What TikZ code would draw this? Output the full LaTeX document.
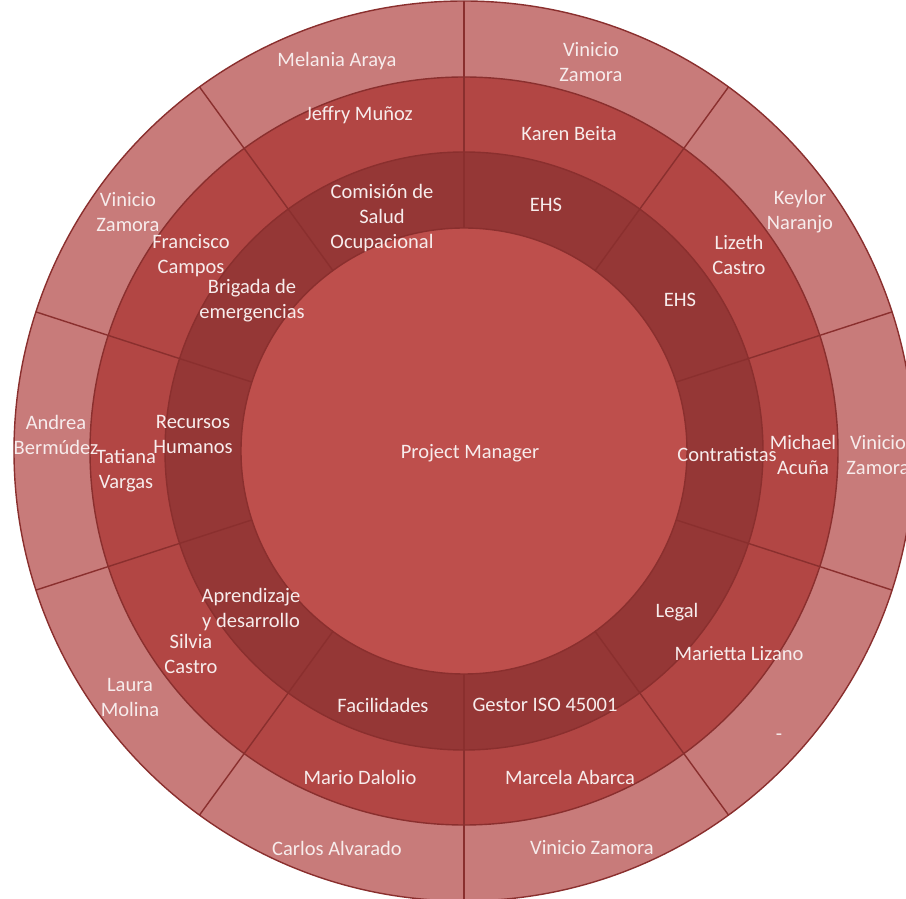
\documentclass[tikz,border=0pt]{standalone}
\usepackage{fontspec}
\setmainfont{Carlito}
\definecolor{ringA}{HTML}{BE4F4C}
\definecolor{ringB}{HTML}{953736}
\definecolor{ringC}{HTML}{B24644}
\definecolor{ringD}{HTML}{C87B7A}
\definecolor{edge}{HTML}{8A2F2E}
\definecolor{lbl}{HTML}{F7ECEC}
\tikzset{
  lab/.style={text=lbl, font=\fontsize{20.5}{25}\selectfont, align=center, inner sep=0pt},
  rim/.style={draw=edge, line width=1.4pt},
}
\begin{document}
\begin{tikzpicture}[x=1pt,y=1pt]
\useasboundingbox (-464,-448) rectangle (442,451);
% rings, outermost first
\fill[ringD] (0,0) circle (450);
\fill[ringC] (0,0) circle (374);
\fill[ringB] (0,0) circle (299);
\fill[ringA] (0,0) circle (223);
\draw[rim] (0,0) circle (450);
\draw[rim] (0,0) circle (374);
\draw[rim] (0,0) circle (299);
\draw[rim] (0,0) circle (223);
% sector boundaries every 36 degrees
\foreach \a in {90,54,18,-18,-54,-90,-126,-162,162,126}
  \draw[rim] (\a:223) -- (\a:450);

\begin{scope}[yshift=-2pt]
% centre
\node[lab] (pm) at (6,0) {Project Manager};

% departments
\node[lab] (d1) at (82,248) {EHS};
\node[lab] (d2) at (216,153) {EHS};
\node[lab] (d3) at (263,-1) {Contratistas};
\node[lab] (d4) at (213,-159) {Legal};
\node[lab] (d5) at (81,-252) {Gestor ISO 45001};
\node[lab] (d6) at (-81,-252) {Facilidades};
\node[lab] (d7) at (-213,-157) {Aprendizaje\\y desarrollo};
\node[lab] (d8) at (-271,18) {Recursos\\Humanos};
\node[lab] (d9) at (-212,152) {Brigada de\\emergencias};
\node[lab] (d10) at (-82,235) {Comisión de\\Salud\\Ocupacional};

% leads
\node[lab] (l1) at (105,319) {Karen Beita};
\node[lab] (l2) at (275,198) {Lizeth\\Castro};
\node[lab] (l3) at (339,-2) {Michael\\Acuña};
\node[lab] (l4) at (275,-201) {Marietta Lizano};
\node[lab] (l5) at (106,-324) {Marcela Abarca};
\node[lab] (l6) at (-104,-324) {Mario Dalolio};
\node[lab] (l7) at (-273,-201) {Silvia\\Castro};
\node[lab] (l8) at (-338,-18) {Tatiana\\Vargas};
\node[lab] (l9) at (-273,197) {Francisco\\Campos};
\node[lab] (l10) at (-105,338) {Jeffry Muñoz};

% outer ring
\node[lab] (o1) at (127,391) {Vinicio\\Zamora};
\node[lab] (o2) at (336,241) {Keylor\\Naranjo};
\node[lab] (o3) at (414,-2) {Vinicio\\Zamora};
\node[lab] (o4) at (315,-284) {-};
\node[lab] (o5) at (128,-395) {Vinicio Zamora};
\node[lab] (o6) at (-127,-395) {Carlos Alvarado};
\node[lab] (o7) at (-334,-245) {Laura\\Molina};
\node[lab] (o8) at (-408,18) {Andrea\\Bermúdez};
\node[lab] (o9) at (-336,241) {Vinicio\\Zamora};
\node[lab] (o10) at (-127,392) {Melania Araya};
\end{scope}
\end{tikzpicture}
\end{document}
